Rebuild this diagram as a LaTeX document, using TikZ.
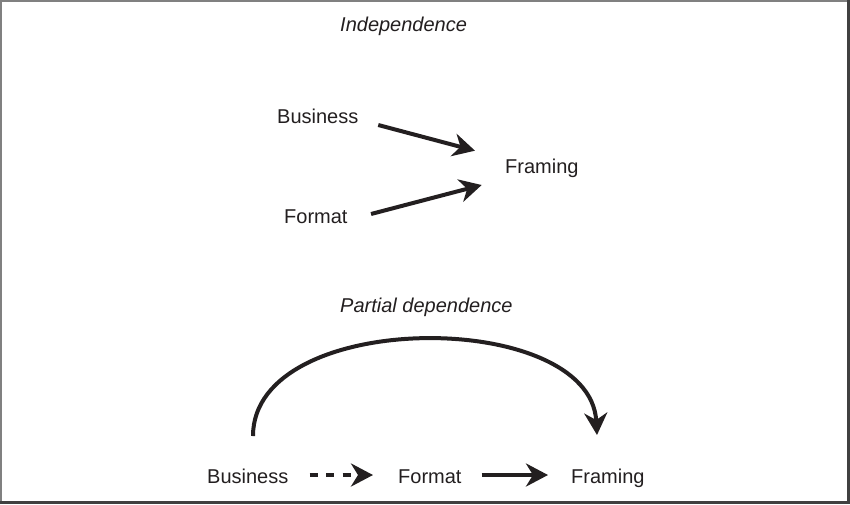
\documentclass[tikz,border=0pt]{standalone}
\usepackage{fontspec}
\setmainfont{Liberation Sans}
\usetikzlibrary{arrows.meta}
\definecolor{ink}{RGB}{35,31,32}
\begin{document}
\begin{tikzpicture}[x=1pt,y=-1pt,
  lbl/.style={inner sep=0pt,anchor=base west,text=ink,font=\fontsize{20}{24}\selectfont},
  ttl/.style={lbl,font=\fontsize{20}{24}\selectfont\itshape},
  arr/.style={draw=ink,line width=4pt,-{Stealth[length=22pt,width=23pt,inset=7pt]}}]
\useasboundingbox (0,0) rectangle (850,504);
\fill[white] (0,0) rectangle (850,504);
\draw[gray,line width=1.5pt] (0.75,504)--(0.75,0.75)--(850,0.75);
\draw[black!75,line width=3pt] (848.5,0)--(848.5,502.5)--(0,502.5);
% top panel
\node[ttl] (t1) at (340,31) {Independence};
\node[lbl] (bus) at (277,123) {Business};
\node[lbl] (fram) at (505,173) {Framing};
\node[lbl] (form) at (284,223) {Format};
\draw[arr] ([shift={(19.7,2)}]bus.base east) -- ([shift={(-30,-22.3)}]fram.base west);
\draw[arr] ([shift={(23.3,-9)}]form.base east) -- ([shift={(-23.3,12)}]fram.base west);
% bottom panel
\node[ttl] (t2) at (340,312) {Partial dependence};
\node[lbl] (bus2) at (207,483) {Business};
\node[lbl] (form2) at (398,483) {Format};
\node[lbl] (fram2) at (571,483) {Framing};
\draw[arr,dash pattern=on 8pt off 8.5pt] ([shift={(21,-8)}]bus2.base east) -- ([shift={(-25,-8)}]form2.base west);
\draw[arr] ([shift={(20,-8)}]form2.base east) -- ([shift={(-23,-8)}]fram2.base west);
\draw[arr] ([shift={(46,-47)}]bus2.base west) .. controls +(0,-128) and +(-7,-127) .. ([shift={(26,-48)}]fram2.base west);
\end{tikzpicture}
\end{document}
